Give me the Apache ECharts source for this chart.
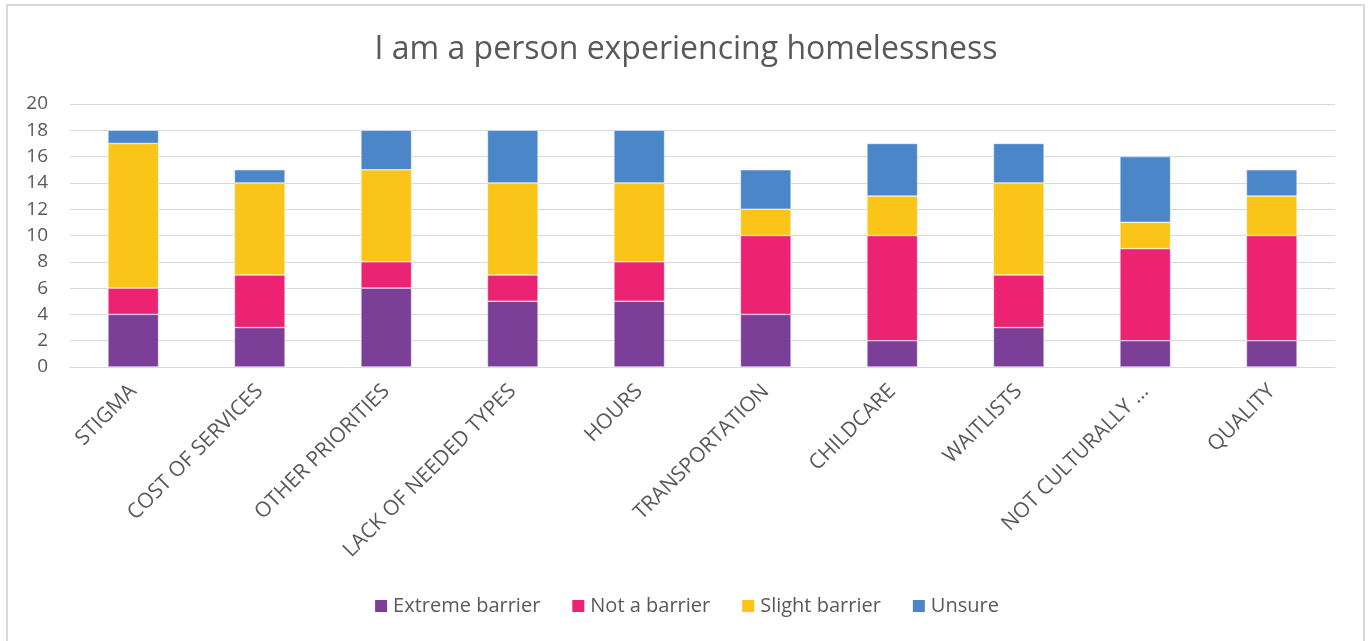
<!DOCTYPE html>
<html>
<head>
<meta charset="utf-8">
<script src="https://cdn.jsdelivr.net/npm/echarts@6/dist/echarts.min.js"></script>
<style>
  html, body { margin: 0; padding: 0; background: #ffffff; }
  #chart { width: 1372px; height: 641px; }
</style>
</head>
<body>
<div id="chart"></div>
<script>
// Barriers to services, stacked by response
const categories = [
  'STIGMA', 'COST OF SERVICES', 'OTHER PRIORITIES', 'LACK OF NEEDED TYPES', 'HOURS',
  'TRANSPORTATION', 'CHILDCARE', 'WAITLISTS', 'NOT CULTURALLY ...', 'QUALITY'
];
const extremeBarrier = [4, 3, 6, 5, 5, 4, 2, 3, 2, 2];
const notABarrier    = [2, 4, 2, 2, 3, 6, 8, 4, 7, 8];
const slightBarrier  = [11, 7, 7, 7, 6, 2, 3, 7, 2, 3];
const unsure         = [1, 1, 3, 4, 4, 3, 4, 3, 5, 2];
const yTicks = { min: 0, max: 20, interval: 2 };

const seriesDefs = [
  { name: 'Extreme barrier', data: extremeBarrier, color: '#7B3F98' },
  { name: 'Not a barrier',   data: notABarrier,    color: '#EC2373' },
  { name: 'Slight barrier',  data: slightBarrier,  color: '#FBC418' },
  { name: 'Unsure',          data: unsure,         color: '#4A86C8' }
];

const textColor = '#595959';
const fontFamily = '"Open Sans", "Noto Sans", sans-serif';

const chart = echarts.init(document.getElementById('chart'));
chart.setOption({
  backgroundColor: '#ffffff',
  animation: false,
  textStyle: { fontFamily: fontFamily },
  title: {
    text: 'I am a person experiencing homelessness',
    left: 'center',
    top: 29,
    textStyle: { color: textColor, fontSize: 32, fontWeight: 'normal', fontFamily: fontFamily }
  },
  legend: {
    bottom: 20,
    left: 'center',
    itemWidth: 14,
    itemHeight: 14,
    itemGap: 30,
    icon: 'rect',
    textStyle: { color: textColor, fontSize: 20, fontFamily: fontFamily },
    data: seriesDefs.map(s => s.name)
  },
  grid: { left: 70, right: 37, top: 104, bottom: 274, containLabel: false },
  xAxis: {
    type: 'category',
    data: categories,
    axisLine: { show: true, lineStyle: { color: '#d9d9d9', width: 1 } },
    axisTick: { show: false },
    axisLabel: {
      rotate: 45,
      interval: 0,
      color: textColor,
      fontSize: 21,
      margin: 21,
      fontFamily: fontFamily
    }
  },
  yAxis: {
    type: 'value',
    min: yTicks.min,
    max: yTicks.max,
    interval: yTicks.interval,
    axisLine: { show: false },
    axisTick: { show: false },
    axisLabel: { color: textColor, fontSize: 19, margin: 22, fontFamily: fontFamily },
    splitLine: { lineStyle: { color: '#d9d9d9', width: 1 } }
  },
  series: seriesDefs.map(s => ({
    name: s.name,
    type: 'bar',
    stack: 'total',
    barWidth: '40%',
    data: s.data,
    itemStyle: { color: s.color, borderColor: '#ffffff', borderWidth: 0.5 }
  })),
  graphic: [
    {
      type: 'rect',
      shape: { x: 7, y: 5, width: 1357, height: 660 },
      style: { fill: 'none', stroke: '#d9d9d9', lineWidth: 2 },
      silent: true,
      z: -1
    }
  ]
});
</script>
</body>
</html>
